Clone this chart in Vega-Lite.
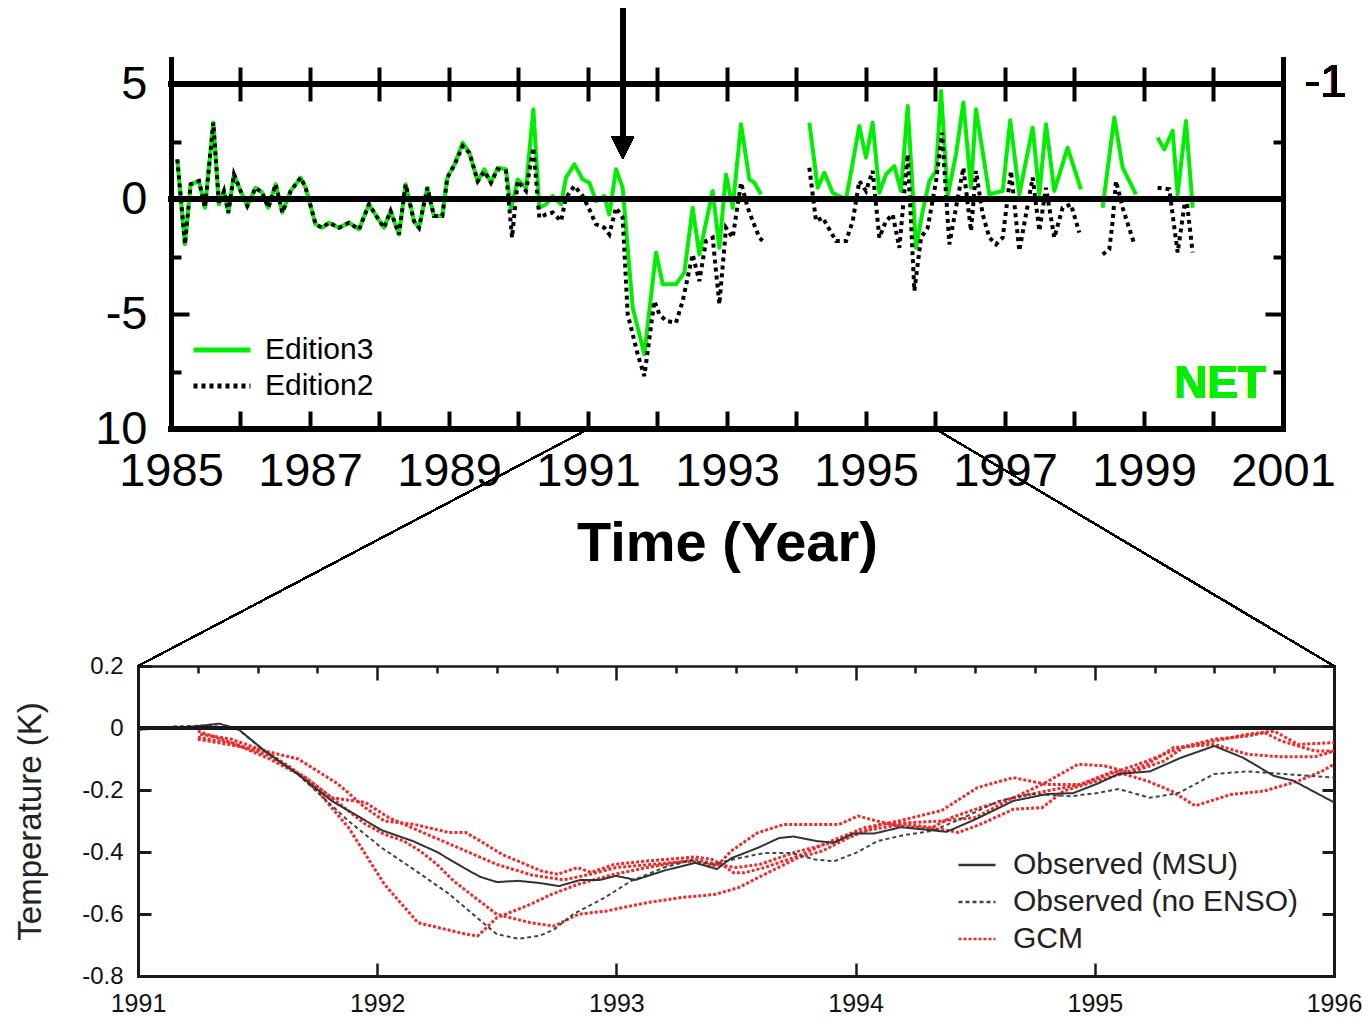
{
 "$schema": "https://vega.github.io/schema/vega-lite/v6.json",
 "padding": {"left": 14, "top": 5, "right": 0, "bottom": 0},
 "autosize": {"type": "pad"},
 "background": "white",
 "bounds": "flush",
 "spacing": 237,
 "resolve": {"scale": {"color": "independent", "strokeDash": "independent", "x": "independent", "y": "independent"}, "legend": {"color": "independent", "strokeDash": "independent"}},
 "config": {
  "view": {"stroke": null},
  "font": "Liberation Sans",
  "axis": {"grid": false, "labelFont": "Liberation Sans", "titleFont": "Liberation Sans"},
  "legend": {"labelFont": "Liberation Sans", "labelLimit": 500}
 },
 "datasets": {
  "top": [
   {"t":1985.091,"v":1.72,"s":"Edition3"},{"t":1985.201,"v":-1.97,"s":"Edition3"},{"t":1985.283,"v":0.64,"s":"Edition3"},{"t":1985.403,"v":0.78,"s":"Edition3"},{"t":1985.489,"v":-0.38,"s":"Edition3"},{"t":1985.609,"v":3.32,"s":"Edition3"},{"t":1985.69,"v":-0.23,"s":"Edition3"},{"t":1985.762,"v":0.35,"s":"Edition3"},{"t":1985.825,"v":-0.59,"s":"Edition3"},{"t":1985.906,"v":1.07,"s":"Edition3"},{"t":1986.002,"v":0.35,"s":"Edition3"},{"t":1986.098,"v":-0.3,"s":"Edition3"},{"t":1986.218,"v":0.49,"s":"Edition3"},{"t":1986.314,"v":0.27,"s":"Edition3"},{"t":1986.4,"v":-0.38,"s":"Edition3"},{"t":1986.506,"v":0.64,"s":"Edition3"},{"t":1986.602,"v":-0.59,"s":"Edition3"},{"t":1986.722,"v":0.35,"s":"Edition3"},{"t":1986.866,"v":0.93,"s":"Edition3"},{"t":1986.937,"v":0.49,"s":"Edition3"},{"t":1987.081,"v":-1.1,"s":"Edition3"},{"t":1987.177,"v":-1.25,"s":"Edition3"},{"t":1987.273,"v":-1.03,"s":"Edition3"},{"t":1987.417,"v":-1.25,"s":"Edition3"},{"t":1987.561,"v":-1.03,"s":"Edition3"},{"t":1987.705,"v":-1.32,"s":"Edition3"},{"t":1987.849,"v":-0.23,"s":"Edition3"},{"t":1987.969,"v":-0.81,"s":"Edition3"},{"t":1988.065,"v":-1.25,"s":"Edition3"},{"t":1988.16,"v":-0.52,"s":"Edition3"},{"t":1988.28,"v":-1.54,"s":"Edition3"},{"t":1988.376,"v":0.64,"s":"Edition3"},{"t":1988.496,"v":-0.96,"s":"Edition3"},{"t":1988.568,"v":-1.25,"s":"Edition3"},{"t":1988.688,"v":0.49,"s":"Edition3"},{"t":1988.784,"v":-0.74,"s":"Edition3"},{"t":1988.904,"v":-0.74,"s":"Edition3"},{"t":1988.976,"v":0.93,"s":"Edition3"},{"t":1989.08,"v":1.5,"s":"Edition3"},{"t":1989.197,"v":2.45,"s":"Edition3"},{"t":1989.293,"v":2.01,"s":"Edition3"},{"t":1989.413,"v":0.78,"s":"Edition3"},{"t":1989.509,"v":1.29,"s":"Edition3"},{"t":1989.604,"v":0.71,"s":"Edition3"},{"t":1989.7,"v":1.36,"s":"Edition3"},{"t":1989.82,"v":1.29,"s":"Edition3"},
   {"t":1989.892,"v":-0.45,"s":"Edition3"},{"t":1989.988,"v":0.85,"s":"Edition3"},{"t":1990.108,"v":0.49,"s":"Edition3"},{"t":1990.214,"v":3.9,"s":"Edition3"},{"t":1990.3,"v":-0.38,"s":"Edition3"},{"t":1990.396,"v":-0.23,"s":"Edition3"},{"t":1990.492,"v":0.13,"s":"Edition3"},{"t":1990.612,"v":-0.23,"s":"Edition3"},{"t":1990.684,"v":0.93,"s":"Edition3"},{"t":1990.804,"v":1.51,"s":"Edition3"},{"t":1990.924,"v":0.85,"s":"Edition3"},{"t":1991.019,"v":0.71,"s":"Edition3"},{"t":1991.115,"v":-0.09,"s":"Edition3"},{"t":1991.235,"v":0.13,"s":"Edition3"},{"t":1991.307,"v":-0.67,"s":"Edition3"},{"t":1991.403,"v":1.29,"s":"Edition3"},{"t":1991.499,"v":0.49,"s":"Edition3"},{"t":1991.643,"v":-4.72,"s":"Edition3"},{"t":1991.811,"v":-6.75,"s":"Edition3"},{"t":1991.979,"v":-2.33,"s":"Edition3"},{"t":1992.075,"v":-3.71,"s":"Edition3"},{"t":1992.266,"v":-3.71,"s":"Edition3"},{"t":1992.386,"v":-3.2,"s":"Edition3"},{"t":1992.506,"v":-0.38,"s":"Edition3"},{"t":1992.602,"v":-2.41,"s":"Edition3"},{"t":1992.794,"v":0.35,"s":"Edition3"},{"t":1992.89,"v":-2.12,"s":"Edition3"},{"t":1992.986,"v":1.07,"s":"Edition3"},{"t":1993.082,"v":-0.38,"s":"Edition3"},{"t":1993.202,"v":3.25,"s":"Edition3"},{"t":1993.322,"v":0.85,"s":"Edition3"},{"t":1993.394,"v":0.71,"s":"Edition3"},{"t":1993.49,"v":0.2,"s":"Edition3"},{"t":1993.8,"v":null,"s":"Edition3"},{"t":1994.185,"v":3.32,"s":"Edition3"},{"t":1994.305,"v":0.49,"s":"Edition3"},{"t":1994.401,"v":1.14,"s":"Edition3"},{"t":1994.521,"v":0.27,"s":"Edition3"},{"t":1994.713,"v":-0.02,"s":"Edition3"},{"t":1994.904,"v":3.17,"s":"Edition3"},{"t":1995.0,"v":1.8,"s":"Edition3"},{"t":1995.096,"v":3.32,"s":"Edition3"},{"t":1995.192,"v":0.27,"s":"Edition3"},{"t":1995.288,"v":1.07,"s":"Edition3"},{"t":1995.408,"v":1.43,"s":"Edition3"},{"t":1995.504,"v":0.35,"s":"Edition3"},{"t":1995.6,"v":4.04,"s":"Edition3"},{"t":1995.72,"v":-2.12,"s":"Edition3"},{"t":1995.816,"v":-0.52,"s":"Edition3"},{"t":1995.912,"v":0.78,"s":"Edition3"},{"t":1996.008,"v":1.22,"s":"Edition3"},{"t":1996.08,"v":4.7,"s":"Edition3"},{"t":1996.175,"v":0.13,"s":"Edition3"},{"t":1996.295,"v":1.94,"s":"Edition3"},{"t":1996.401,"v":4.19,"s":"Edition3"},{"t":1996.511,"v":0.49,"s":"Edition3"},{"t":1996.583,"v":3.9,"s":"Edition3"},{"t":1996.775,"v":0.2,"s":"Edition3"},{"t":1996.967,"v":0.35,"s":"Edition3"},{"t":1997.075,"v":3.42,"s":"Edition3"},{"t":1997.206,"v":0.2,"s":"Edition3"},{"t":1997.398,"v":3.1,"s":"Edition3"},{"t":1997.494,"v":0.2,"s":"Edition3"},{"t":1997.59,"v":3.25,"s":"Edition3"},{"t":1997.709,"v":0.35,"s":"Edition3"},{"t":1997.901,"v":2.23,"s":"Edition3"},{"t":1998.093,"v":0.42,"s":"Edition3"},{"t":1998.25,"v":null,"s":"Edition3"},{"t":1998.405,"v":-0.38,"s":"Edition3"},{"t":1998.573,"v":3.54,"s":"Edition3"},{"t":1998.693,"v":1.36,"s":"Edition3"},{"t":1998.885,"v":0.2,"s":"Edition3"},{"t":1999.05,"v":null,"s":"Edition3"},{"t":1999.196,"v":2.67,"s":"Edition3"},{"t":1999.292,"v":2.16,"s":"Edition3"},{"t":1999.412,"v":2.96,"s":"Edition3"},{"t":1999.484,"v":0.2,"s":"Edition3"},{"t":1999.604,"v":3.39,"s":"Edition3"},{"t":1999.7,"v":-0.38,"s":"Edition3"},
   {"t":1985.091,"v":1.72,"s":"Edition2"},{"t":1985.201,"v":-1.97,"s":"Edition2"},{"t":1985.283,"v":0.64,"s":"Edition2"},{"t":1985.403,"v":0.78,"s":"Edition2"},{"t":1985.489,"v":-0.38,"s":"Edition2"},{"t":1985.609,"v":3.32,"s":"Edition2"},{"t":1985.69,"v":-0.23,"s":"Edition2"},{"t":1985.762,"v":0.35,"s":"Edition2"},{"t":1985.825,"v":-0.59,"s":"Edition2"},{"t":1985.906,"v":1.07,"s":"Edition2"},{"t":1986.002,"v":0.35,"s":"Edition2"},{"t":1986.098,"v":-0.3,"s":"Edition2"},{"t":1986.218,"v":0.49,"s":"Edition2"},{"t":1986.314,"v":0.27,"s":"Edition2"},{"t":1986.4,"v":-0.38,"s":"Edition2"},{"t":1986.506,"v":0.64,"s":"Edition2"},{"t":1986.602,"v":-0.59,"s":"Edition2"},{"t":1986.722,"v":0.35,"s":"Edition2"},{"t":1986.866,"v":0.93,"s":"Edition2"},{"t":1986.937,"v":0.49,"s":"Edition2"},{"t":1987.081,"v":-1.1,"s":"Edition2"},{"t":1987.177,"v":-1.25,"s":"Edition2"},{"t":1987.273,"v":-1.03,"s":"Edition2"},{"t":1987.417,"v":-1.25,"s":"Edition2"},{"t":1987.561,"v":-1.03,"s":"Edition2"},{"t":1987.705,"v":-1.32,"s":"Edition2"},{"t":1987.849,"v":-0.23,"s":"Edition2"},{"t":1987.969,"v":-0.81,"s":"Edition2"},{"t":1988.065,"v":-1.25,"s":"Edition2"},{"t":1988.16,"v":-0.52,"s":"Edition2"},{"t":1988.28,"v":-1.54,"s":"Edition2"},{"t":1988.376,"v":0.64,"s":"Edition2"},{"t":1988.496,"v":-0.96,"s":"Edition2"},{"t":1988.568,"v":-1.25,"s":"Edition2"},{"t":1988.688,"v":0.49,"s":"Edition2"},{"t":1988.784,"v":-0.74,"s":"Edition2"},{"t":1988.904,"v":-0.74,"s":"Edition2"},{"t":1988.976,"v":0.93,"s":"Edition2"},{"t":1989.08,"v":1.5,"s":"Edition2"},{"t":1989.197,"v":2.3,"s":"Edition2"},{"t":1989.293,"v":2.01,"s":"Edition2"},{"t":1989.413,"v":0.78,"s":"Edition2"},{"t":1989.509,"v":1.2,"s":"Edition2"},{"t":1989.604,"v":0.71,"s":"Edition2"},{"t":1989.7,"v":1.3,"s":"Edition2"},{"t":1989.82,"v":1.2,"s":"Edition2"},
   {"t":1989.907,"v":-1.68,"s":"Edition2"},{"t":1989.988,"v":0.78,"s":"Edition2"},{"t":1990.108,"v":0.35,"s":"Edition2"},{"t":1990.214,"v":2.23,"s":"Edition2"},{"t":1990.3,"v":-0.81,"s":"Edition2"},{"t":1990.396,"v":-0.67,"s":"Edition2"},{"t":1990.492,"v":-0.59,"s":"Edition2"},{"t":1990.612,"v":-0.96,"s":"Edition2"},{"t":1990.684,"v":0.06,"s":"Edition2"},{"t":1990.804,"v":0.57,"s":"Edition2"},{"t":1990.924,"v":0.13,"s":"Edition2"},{"t":1991.019,"v":-0.45,"s":"Edition2"},{"t":1991.115,"v":-1.1,"s":"Edition2"},{"t":1991.235,"v":-1.25,"s":"Edition2"},{"t":1991.307,"v":-1.54,"s":"Edition2"},{"t":1991.403,"v":-0.38,"s":"Edition2"},{"t":1991.499,"v":-0.81,"s":"Edition2"},{"t":1991.571,"v":-5.01,"s":"Edition2"},{"t":1991.715,"v":-6.75,"s":"Edition2"},{"t":1991.811,"v":-7.7,"s":"Edition2"},{"t":1991.955,"v":-4.44,"s":"Edition2"},{"t":1992.027,"v":-5.01,"s":"Edition2"},{"t":1992.123,"v":-5.3,"s":"Edition2"},{"t":1992.266,"v":-5.38,"s":"Edition2"},{"t":1992.362,"v":-4.44,"s":"Edition2"},{"t":1992.506,"v":-2.41,"s":"Edition2"},{"t":1992.602,"v":-3.57,"s":"Edition2"},{"t":1992.698,"v":-1.83,"s":"Edition2"},{"t":1992.794,"v":-1.68,"s":"Edition2"},{"t":1992.89,"v":-4.58,"s":"Edition2"},{"t":1992.986,"v":-1.25,"s":"Edition2"},{"t":1993.082,"v":-1.68,"s":"Edition2"},{"t":1993.202,"v":0.71,"s":"Edition2"},{"t":1993.298,"v":-0.38,"s":"Edition2"},{"t":1993.37,"v":-0.96,"s":"Edition2"},{"t":1993.466,"v":-1.68,"s":"Edition2"},{"t":1993.514,"v":-1.83,"s":"Edition2"},{"t":1993.8,"v":null,"s":"Edition2"},{"t":1994.185,"v":1.36,"s":"Edition2"},{"t":1994.281,"v":-0.96,"s":"Edition2"},{"t":1994.377,"v":-0.81,"s":"Edition2"},{"t":1994.473,"v":-1.32,"s":"Edition2"},{"t":1994.569,"v":-1.83,"s":"Edition2"},{"t":1994.713,"v":-1.83,"s":"Edition2"},{"t":1994.809,"v":-0.96,"s":"Edition2"},{"t":1994.904,"v":0.78,"s":"Edition2"},{"t":1995.0,"v":0.35,"s":"Edition2"},{"t":1995.096,"v":1.22,"s":"Edition2"},{"t":1995.192,"v":-1.68,"s":"Edition2"},{"t":1995.288,"v":-0.96,"s":"Edition2"},{"t":1995.384,"v":-0.67,"s":"Edition2"},{"t":1995.48,"v":-2.12,"s":"Edition2"},{"t":1995.6,"v":1.94,"s":"Edition2"},{"t":1995.696,"v":-4.0,"s":"Edition2"},{"t":1995.792,"v":-1.68,"s":"Edition2"},{"t":1995.888,"v":-1.25,"s":"Edition2"},{"t":1996.008,"v":0.78,"s":"Edition2"},{"t":1996.094,"v":2.88,"s":"Edition2"},{"t":1996.199,"v":-1.97,"s":"Edition2"},{"t":1996.295,"v":-0.38,"s":"Edition2"},{"t":1996.401,"v":1.36,"s":"Edition2"},{"t":1996.511,"v":-1.39,"s":"Edition2"},{"t":1996.583,"v":1.22,"s":"Edition2"},{"t":1996.679,"v":-0.67,"s":"Edition2"},{"t":1996.775,"v":-1.68,"s":"Edition2"},{"t":1996.871,"v":-1.97,"s":"Edition2"},{"t":1996.967,"v":-1.68,"s":"Edition2"},{"t":1997.086,"v":1.22,"s":"Edition2"},{"t":1997.206,"v":-2.26,"s":"Edition2"},{"t":1997.302,"v":-0.67,"s":"Edition2"},{"t":1997.398,"v":0.93,"s":"Edition2"},{"t":1997.494,"v":-1.39,"s":"Edition2"},{"t":1997.59,"v":0.49,"s":"Edition2"},{"t":1997.709,"v":-1.68,"s":"Edition2"},{"t":1997.829,"v":-0.38,"s":"Edition2"},{"t":1997.949,"v":-0.23,"s":"Edition2"},{"t":1998.069,"v":-1.46,"s":"Edition2"},{"t":1998.25,"v":null,"s":"Edition2"},{"t":1998.405,"v":-2.41,"s":"Edition2"},{"t":1998.501,"v":-2.19,"s":"Edition2"},{"t":1998.549,"v":-0.96,"s":"Edition2"},{"t":1998.597,"v":0.78,"s":"Edition2"},{"t":1998.693,"v":-0.38,"s":"Edition2"},{"t":1998.861,"v":-1.97,"s":"Edition2"},{"t":1999.05,"v":null,"s":"Edition2"},{"t":1999.196,"v":0.49,"s":"Edition2"},{"t":1999.364,"v":0.42,"s":"Edition2"},{"t":1999.484,"v":-2.33,"s":"Edition2"},{"t":1999.604,"v":0.2,"s":"Edition2"},{"t":1999.7,"v":-2.33,"s":"Edition2"}
  ],
  "bottom": [
   {"t":1991.0,"v":-0.005,"g":"Observed (MSU)","m":"msu"},{"t":1991.1,"v":-0.002,"g":"Observed (MSU)","m":"msu"},{"t":1991.2,"v":0.002,"g":"Observed (MSU)","m":"msu"},{"t":1991.34,"v":0.014,"g":"Observed (MSU)","m":"msu"},{"t":1991.42,"v":-0.004,"g":"Observed (MSU)","m":"msu"},{"t":1991.53,"v":-0.074,"g":"Observed (MSU)","m":"msu"},{"t":1991.67,"v":-0.15,"g":"Observed (MSU)","m":"msu"},{"t":1991.81,"v":-0.235,"g":"Observed (MSU)","m":"msu"},{"t":1992.02,"v":-0.33,"g":"Observed (MSU)","m":"msu"},{"t":1992.15,"v":-0.365,"g":"Observed (MSU)","m":"msu"},{"t":1992.25,"v":-0.4,"g":"Observed (MSU)","m":"msu"},{"t":1992.36,"v":-0.45,"g":"Observed (MSU)","m":"msu"},{"t":1992.43,"v":-0.48,"g":"Observed (MSU)","m":"msu"},{"t":1992.5,"v":-0.497,"g":"Observed (MSU)","m":"msu"},{"t":1992.59,"v":-0.493,"g":"Observed (MSU)","m":"msu"},{"t":1992.68,"v":-0.5,"g":"Observed (MSU)","m":"msu"},{"t":1992.76,"v":-0.51,"g":"Observed (MSU)","m":"msu"},{"t":1992.85,"v":-0.49,"g":"Observed (MSU)","m":"msu"},{"t":1992.93,"v":-0.49,"g":"Observed (MSU)","m":"msu"},{"t":1993.0,"v":-0.477,"g":"Observed (MSU)","m":"msu"},{"t":1993.08,"v":-0.49,"g":"Observed (MSU)","m":"msu"},{"t":1993.2,"v":-0.46,"g":"Observed (MSU)","m":"msu"},{"t":1993.33,"v":-0.435,"g":"Observed (MSU)","m":"msu"},{"t":1993.42,"v":-0.455,"g":"Observed (MSU)","m":"msu"},{"t":1993.48,"v":-0.42,"g":"Observed (MSU)","m":"msu"},{"t":1993.59,"v":-0.387,"g":"Observed (MSU)","m":"msu"},{"t":1993.68,"v":-0.355,"g":"Observed (MSU)","m":"msu"},{"t":1993.74,"v":-0.35,"g":"Observed (MSU)","m":"msu"},{"t":1993.84,"v":-0.365,"g":"Observed (MSU)","m":"msu"},{"t":1993.91,"v":-0.37,"g":"Observed (MSU)","m":"msu"},{"t":1993.99,"v":-0.34,"g":"Observed (MSU)","m":"msu"},{"t":1994.08,"v":-0.34,"g":"Observed (MSU)","m":"msu"},{"t":1994.19,"v":-0.32,"g":"Observed (MSU)","m":"msu"},{"t":1994.32,"v":-0.33,"g":"Observed (MSU)","m":"msu"},{"t":1994.38,"v":-0.335,"g":"Observed (MSU)","m":"msu"},{"t":1994.5,"v":-0.295,"g":"Observed (MSU)","m":"msu"},{"t":1994.66,"v":-0.235,"g":"Observed (MSU)","m":"msu"},{"t":1994.8,"v":-0.213,"g":"Observed (MSU)","m":"msu"},{"t":1994.91,"v":-0.21,"g":"Observed (MSU)","m":"msu"},{"t":1995.01,"v":-0.18,"g":"Observed (MSU)","m":"msu"},{"t":1995.1,"v":-0.148,"g":"Observed (MSU)","m":"msu"},{"t":1995.23,"v":-0.14,"g":"Observed (MSU)","m":"msu"},{"t":1995.36,"v":-0.096,"g":"Observed (MSU)","m":"msu"},{"t":1995.5,"v":-0.058,"g":"Observed (MSU)","m":"msu"},{"t":1995.62,"v":-0.096,"g":"Observed (MSU)","m":"msu"},{"t":1995.75,"v":-0.155,"g":"Observed (MSU)","m":"msu"},{"t":1995.83,"v":-0.17,"g":"Observed (MSU)","m":"msu"},{"t":1996.0,"v":-0.24,"g":"Observed (MSU)","m":"msu"},
   {"t":1991.0,"v":-0.005,"g":"Observed (no ENSO)","m":"ne"},{"t":1991.15,"v":0.005,"g":"Observed (no ENSO)","m":"ne"},{"t":1991.3,"v":0.008,"g":"Observed (no ENSO)","m":"ne"},{"t":1991.42,"v":-0.005,"g":"Observed (no ENSO)","m":"ne"},{"t":1991.53,"v":-0.075,"g":"Observed (no ENSO)","m":"ne"},{"t":1991.67,"v":-0.15,"g":"Observed (no ENSO)","m":"ne"},{"t":1991.74,"v":-0.2,"g":"Observed (no ENSO)","m":"ne"},{"t":1991.88,"v":-0.3,"g":"Observed (no ENSO)","m":"ne"},{"t":1992.02,"v":-0.387,"g":"Observed (no ENSO)","m":"ne"},{"t":1992.16,"v":-0.46,"g":"Observed (no ENSO)","m":"ne"},{"t":1992.3,"v":-0.535,"g":"Observed (no ENSO)","m":"ne"},{"t":1992.43,"v":-0.62,"g":"Observed (no ENSO)","m":"ne"},{"t":1992.5,"v":-0.665,"g":"Observed (no ENSO)","m":"ne"},{"t":1992.59,"v":-0.68,"g":"Observed (no ENSO)","m":"ne"},{"t":1992.68,"v":-0.67,"g":"Observed (no ENSO)","m":"ne"},{"t":1992.74,"v":-0.65,"g":"Observed (no ENSO)","m":"ne"},{"t":1992.82,"v":-0.6,"g":"Observed (no ENSO)","m":"ne"},{"t":1992.95,"v":-0.548,"g":"Observed (no ENSO)","m":"ne"},{"t":1993.06,"v":-0.494,"g":"Observed (no ENSO)","m":"ne"},{"t":1993.2,"v":-0.45,"g":"Observed (no ENSO)","m":"ne"},{"t":1993.31,"v":-0.427,"g":"Observed (no ENSO)","m":"ne"},{"t":1993.4,"v":-0.44,"g":"Observed (no ENSO)","m":"ne"},{"t":1993.51,"v":-0.42,"g":"Observed (no ENSO)","m":"ne"},{"t":1993.62,"v":-0.403,"g":"Observed (no ENSO)","m":"ne"},{"t":1993.73,"v":-0.403,"g":"Observed (no ENSO)","m":"ne"},{"t":1993.83,"v":-0.424,"g":"Observed (no ENSO)","m":"ne"},{"t":1993.91,"v":-0.43,"g":"Observed (no ENSO)","m":"ne"},{"t":1994.01,"v":-0.4,"g":"Observed (no ENSO)","m":"ne"},{"t":1994.09,"v":-0.365,"g":"Observed (no ENSO)","m":"ne"},{"t":1994.2,"v":-0.346,"g":"Observed (no ENSO)","m":"ne"},{"t":1994.32,"v":-0.332,"g":"Observed (no ENSO)","m":"ne"},{"t":1994.45,"v":-0.29,"g":"Observed (no ENSO)","m":"ne"},{"t":1994.6,"v":-0.235,"g":"Observed (no ENSO)","m":"ne"},{"t":1994.73,"v":-0.213,"g":"Observed (no ENSO)","m":"ne"},{"t":1994.9,"v":-0.22,"g":"Observed (no ENSO)","m":"ne"},{"t":1995.01,"v":-0.21,"g":"Observed (no ENSO)","m":"ne"},{"t":1995.1,"v":-0.197,"g":"Observed (no ENSO)","m":"ne"},{"t":1995.23,"v":-0.225,"g":"Observed (no ENSO)","m":"ne"},{"t":1995.35,"v":-0.21,"g":"Observed (no ENSO)","m":"ne"},{"t":1995.5,"v":-0.148,"g":"Observed (no ENSO)","m":"ne"},{"t":1995.64,"v":-0.14,"g":"Observed (no ENSO)","m":"ne"},{"t":1995.78,"v":-0.148,"g":"Observed (no ENSO)","m":"ne"},{"t":1996.0,"v":-0.16,"g":"Observed (no ENSO)","m":"ne"},
   {"t":1991.25,"v":-0.036,"g":"GCM","m":"g1"},{"t":1991.53,"v":-0.074,"g":"GCM","m":"g1"},{"t":1991.67,"v":-0.1,"g":"GCM","m":"g1"},{"t":1991.835,"v":-0.18,"g":"GCM","m":"g1"},{"t":1991.95,"v":-0.257,"g":"GCM","m":"g1"},{"t":1992.03,"v":-0.3,"g":"GCM","m":"g1"},{"t":1992.155,"v":-0.311,"g":"GCM","m":"g1"},{"t":1992.3,"v":-0.337,"g":"GCM","m":"g1"},{"t":1992.37,"v":-0.337,"g":"GCM","m":"g1"},{"t":1992.43,"v":-0.364,"g":"GCM","m":"g1"},{"t":1992.52,"v":-0.407,"g":"GCM","m":"g1"},{"t":1992.685,"v":-0.461,"g":"GCM","m":"g1"},{"t":1992.754,"v":-0.472,"g":"GCM","m":"g1"},{"t":1992.838,"v":-0.45,"g":"GCM","m":"g1"},{"t":1992.894,"v":-0.466,"g":"GCM","m":"g1"},{"t":1992.99,"v":-0.44,"g":"GCM","m":"g1"},{"t":1993.13,"v":-0.429,"g":"GCM","m":"g1"},{"t":1993.33,"v":-0.416,"g":"GCM","m":"g1"},{"t":1993.4,"v":-0.424,"g":"GCM","m":"g1"},{"t":1993.44,"v":-0.44,"g":"GCM","m":"g1"},{"t":1993.49,"v":-0.467,"g":"GCM","m":"g1"},{"t":1993.535,"v":-0.467,"g":"GCM","m":"g1"},{"t":1993.62,"v":-0.45,"g":"GCM","m":"g1"},{"t":1993.76,"v":-0.413,"g":"GCM","m":"g1"},{"t":1993.9,"v":-0.364,"g":"GCM","m":"g1"},{"t":1994.04,"v":-0.321,"g":"GCM","m":"g1"},{"t":1994.18,"v":-0.3,"g":"GCM","m":"g1"},{"t":1994.36,"v":-0.266,"g":"GCM","m":"g1"},{"t":1994.51,"v":-0.192,"g":"GCM","m":"g1"},{"t":1994.66,"v":-0.16,"g":"GCM","m":"g1"},{"t":1994.8,"v":-0.182,"g":"GCM","m":"g1"},{"t":1994.94,"v":-0.182,"g":"GCM","m":"g1"},{"t":1995.08,"v":-0.144,"g":"GCM","m":"g1"},{"t":1995.22,"v":-0.106,"g":"GCM","m":"g1"},{"t":1995.36,"v":-0.063,"g":"GCM","m":"g1"},{"t":1995.5,"v":-0.036,"g":"GCM","m":"g1"},{"t":1995.64,"v":-0.026,"g":"GCM","m":"g1"},{"t":1995.71,"v":-0.015,"g":"GCM","m":"g1"},{"t":1995.78,"v":-0.042,"g":"GCM","m":"g1"},{"t":1995.92,"v":-0.074,"g":"GCM","m":"g1"},{"t":1996.0,"v":-0.074,"g":"GCM","m":"g1"},
   {"t":1991.25,"v":-0.01,"g":"GCM","m":"g2"},{"t":1991.4,"v":-0.05,"g":"GCM","m":"g2"},{"t":1991.55,"v":-0.1,"g":"GCM","m":"g2"},{"t":1991.7,"v":-0.16,"g":"GCM","m":"g2"},{"t":1991.81,"v":-0.225,"g":"GCM","m":"g2"},{"t":1991.95,"v":-0.24,"g":"GCM","m":"g2"},{"t":1992.05,"v":-0.29,"g":"GCM","m":"g2"},{"t":1992.2,"v":-0.34,"g":"GCM","m":"g2"},{"t":1992.35,"v":-0.39,"g":"GCM","m":"g2"},{"t":1992.5,"v":-0.44,"g":"GCM","m":"g2"},{"t":1992.65,"v":-0.475,"g":"GCM","m":"g2"},{"t":1992.78,"v":-0.49,"g":"GCM","m":"g2"},{"t":1992.9,"v":-0.47,"g":"GCM","m":"g2"},{"t":1993.0,"v":-0.45,"g":"GCM","m":"g2"},{"t":1993.15,"v":-0.44,"g":"GCM","m":"g2"},{"t":1993.3,"v":-0.43,"g":"GCM","m":"g2"},{"t":1993.42,"v":-0.445,"g":"GCM","m":"g2"},{"t":1993.48,"v":-0.397,"g":"GCM","m":"g2"},{"t":1993.59,"v":-0.338,"g":"GCM","m":"g2"},{"t":1993.7,"v":-0.311,"g":"GCM","m":"g2"},{"t":1993.93,"v":-0.311,"g":"GCM","m":"g2"},{"t":1994.01,"v":-0.284,"g":"GCM","m":"g2"},{"t":1994.09,"v":-0.3,"g":"GCM","m":"g2"},{"t":1994.18,"v":-0.316,"g":"GCM","m":"g2"},{"t":1994.36,"v":-0.327,"g":"GCM","m":"g2"},{"t":1994.43,"v":-0.337,"g":"GCM","m":"g2"},{"t":1994.52,"v":-0.311,"g":"GCM","m":"g2"},{"t":1994.66,"v":-0.262,"g":"GCM","m":"g2"},{"t":1994.78,"v":-0.257,"g":"GCM","m":"g2"},{"t":1994.87,"v":-0.203,"g":"GCM","m":"g2"},{"t":1995.01,"v":-0.171,"g":"GCM","m":"g2"},{"t":1995.11,"v":-0.149,"g":"GCM","m":"g2"},{"t":1995.22,"v":-0.117,"g":"GCM","m":"g2"},{"t":1995.33,"v":-0.063,"g":"GCM","m":"g2"},{"t":1995.5,"v":-0.053,"g":"GCM","m":"g2"},{"t":1995.64,"v":-0.085,"g":"GCM","m":"g2"},{"t":1995.78,"v":-0.093,"g":"GCM","m":"g2"},{"t":1995.92,"v":-0.093,"g":"GCM","m":"g2"},{"t":1996.0,"v":-0.074,"g":"GCM","m":"g2"},
   {"t":1991.25,"v":-0.03,"g":"GCM","m":"g3"},{"t":1991.4,"v":-0.05,"g":"GCM","m":"g3"},{"t":1991.55,"v":-0.09,"g":"GCM","m":"g3"},{"t":1991.7,"v":-0.16,"g":"GCM","m":"g3"},{"t":1991.81,"v":-0.225,"g":"GCM","m":"g3"},{"t":1991.95,"v":-0.31,"g":"GCM","m":"g3"},{"t":1992.03,"v":-0.343,"g":"GCM","m":"g3"},{"t":1992.11,"v":-0.364,"g":"GCM","m":"g3"},{"t":1992.18,"v":-0.397,"g":"GCM","m":"g3"},{"t":1992.25,"v":-0.44,"g":"GCM","m":"g3"},{"t":1992.32,"v":-0.494,"g":"GCM","m":"g3"},{"t":1992.5,"v":-0.601,"g":"GCM","m":"g3"},{"t":1992.64,"v":-0.628,"g":"GCM","m":"g3"},{"t":1992.74,"v":-0.639,"g":"GCM","m":"g3"},{"t":1992.84,"v":-0.601,"g":"GCM","m":"g3"},{"t":1992.96,"v":-0.59,"g":"GCM","m":"g3"},{"t":1993.13,"v":-0.563,"g":"GCM","m":"g3"},{"t":1993.27,"v":-0.547,"g":"GCM","m":"g3"},{"t":1993.41,"v":-0.537,"g":"GCM","m":"g3"},{"t":1993.51,"v":-0.515,"g":"GCM","m":"g3"},{"t":1993.62,"v":-0.472,"g":"GCM","m":"g3"},{"t":1993.76,"v":-0.418,"g":"GCM","m":"g3"},{"t":1993.86,"v":-0.397,"g":"GCM","m":"g3"},{"t":1993.97,"v":-0.354,"g":"GCM","m":"g3"},{"t":1994.11,"v":-0.31,"g":"GCM","m":"g3"},{"t":1994.36,"v":-0.3,"g":"GCM","m":"g3"},{"t":1994.5,"v":-0.289,"g":"GCM","m":"g3"},{"t":1994.66,"v":-0.225,"g":"GCM","m":"g3"},{"t":1994.8,"v":-0.203,"g":"GCM","m":"g3"},{"t":1994.94,"v":-0.182,"g":"GCM","m":"g3"},{"t":1995.08,"v":-0.139,"g":"GCM","m":"g3"},{"t":1995.22,"v":-0.171,"g":"GCM","m":"g3"},{"t":1995.32,"v":-0.203,"g":"GCM","m":"g3"},{"t":1995.42,"v":-0.251,"g":"GCM","m":"g3"},{"t":1995.57,"v":-0.214,"g":"GCM","m":"g3"},{"t":1995.71,"v":-0.203,"g":"GCM","m":"g3"},{"t":1995.85,"v":-0.171,"g":"GCM","m":"g3"},{"t":1995.95,"v":-0.139,"g":"GCM","m":"g3"},{"t":1996.0,"v":-0.117,"g":"GCM","m":"g3"},
   {"t":1991.26,"v":-0.02,"g":"GCM","m":"g4"},{"t":1991.39,"v":-0.036,"g":"GCM","m":"g4"},{"t":1991.53,"v":-0.074,"g":"GCM","m":"g4"},{"t":1991.64,"v":-0.128,"g":"GCM","m":"g4"},{"t":1991.75,"v":-0.203,"g":"GCM","m":"g4"},{"t":1991.88,"v":-0.321,"g":"GCM","m":"g4"},{"t":1992.03,"v":-0.504,"g":"GCM","m":"g4"},{"t":1992.17,"v":-0.628,"g":"GCM","m":"g4"},{"t":1992.37,"v":-0.665,"g":"GCM","m":"g4"},{"t":1992.42,"v":-0.671,"g":"GCM","m":"g4"},{"t":1992.5,"v":-0.612,"g":"GCM","m":"g4"},{"t":1992.64,"v":-0.569,"g":"GCM","m":"g4"},{"t":1992.73,"v":-0.536,"g":"GCM","m":"g4"},{"t":1992.84,"v":-0.504,"g":"GCM","m":"g4"},{"t":1992.99,"v":-0.472,"g":"GCM","m":"g4"},{"t":1993.13,"v":-0.45,"g":"GCM","m":"g4"},{"t":1993.33,"v":-0.424,"g":"GCM","m":"g4"},{"t":1993.42,"v":-0.44,"g":"GCM","m":"g4"},{"t":1993.5,"v":-0.45,"g":"GCM","m":"g4"},{"t":1993.6,"v":-0.44,"g":"GCM","m":"g4"},{"t":1993.75,"v":-0.4,"g":"GCM","m":"g4"},{"t":1993.9,"v":-0.37,"g":"GCM","m":"g4"},{"t":1994.05,"v":-0.33,"g":"GCM","m":"g4"},{"t":1994.2,"v":-0.31,"g":"GCM","m":"g4"},{"t":1994.32,"v":-0.321,"g":"GCM","m":"g4"},{"t":1994.4,"v":-0.289,"g":"GCM","m":"g4"},{"t":1994.52,"v":-0.257,"g":"GCM","m":"g4"},{"t":1994.66,"v":-0.225,"g":"GCM","m":"g4"},{"t":1994.78,"v":-0.182,"g":"GCM","m":"g4"},{"t":1994.93,"v":-0.117,"g":"GCM","m":"g4"},{"t":1995.04,"v":-0.122,"g":"GCM","m":"g4"},{"t":1995.15,"v":-0.144,"g":"GCM","m":"g4"},{"t":1995.29,"v":-0.106,"g":"GCM","m":"g4"},{"t":1995.37,"v":-0.063,"g":"GCM","m":"g4"},{"t":1995.5,"v":-0.042,"g":"GCM","m":"g4"},{"t":1995.64,"v":-0.02,"g":"GCM","m":"g4"},{"t":1995.75,"v":-0.01,"g":"GCM","m":"g4"},{"t":1995.85,"v":-0.053,"g":"GCM","m":"g4"},{"t":1996.0,"v":-0.047,"g":"GCM","m":"g4"}
  ]
 },
 "vconcat": [
  {
   "width": 1145,
   "height": 370,
   "data": {"name": "top"},
   "resolve": {"axis": {"x": "independent", "y": "independent"}},
   "layer": [
    {
     "transform": [{"filter": "datum.s == 'Edition3'"}],
     "mark": {"type": "line", "strokeWidth": 4, "invalid": "break-paths-show-domains", "strokeJoin": "round"},
     "encoding": {
      "x": {"field": "t", "type": "quantitative", "scale": {"domain": [1984.5252, 2001], "nice": false, "zero": false},
       "axis": {"orient": "bottom", "values": [1985,1986,1987,1988,1989,1990,1991,1992,1993,1994,1995,1996,1997,1998,1999,2000,2001], "format": "d", "labelExpr": "datum.value % 2 == 1 ? datum.label : ''", "labelFlush": false, "labelOverlap": false, "labelFontSize": 47, "labelColor": "#000", "labelPadding": 37, "tickSize": -18, "tickWidth": 4, "tickColor": "#000", "domain": false, "title": "Time (Year)", "titleX": 589, "titleFontSize": 56, "titleFontWeight": "bold", "titleColor": "#000", "titlePadding": 22}},
      "y": {"field": "v", "type": "quantitative", "scale": {"domain": [-10, 6.087], "nice": false, "zero": false},
       "axis": {"orient": "left", "offset": -33, "values": [5, 2.5, 0, -2.5, -5, -7.5, -10], "labelExpr": "datum.value == 5 ? '5' : datum.value == 0 ? '0' : datum.value == -5 ? '-5' : datum.value == -10 ? '10' : ''", "labelFontSize": 47, "labelColor": "#000", "labelPadding": 42, "tickSize": {"condition": {"test": "datum.value % 5 == 0", "value": -18}, "value": -10}, "tickWidth": 4, "tickColor": "#000", "domainWidth": 5, "domainColor": "#000", "domainCap": "square", "title": null}},
      "color": {"field": "s", "type": "nominal", "scale": {"domain": ["Edition3", "Edition2"], "range": ["#00ee00", "#000000"]},
       "legend": {"orient": "none", "legendX": 53, "legendY": 260, "values": ["Edition3"], "title": null, "symbolType": "stroke", "symbolSize": 3249, "symbolStrokeWidth": 5, "labelFontSize": 30, "labelColor": "#000", "labelOffset": 12, "padding": 0}},
      "strokeDash": {"field": "s", "type": "nominal", "scale": {"domain": ["Edition2", "Edition3"], "range": [[4, 4], [1, 0]]},
       "legend": {"orient": "none", "legendX": 53, "legendY": 296, "values": ["Edition2"], "title": null, "symbolType": "stroke", "symbolSize": 3249, "symbolStrokeWidth": 5, "symbolStrokeColor": "#000", "labelFontSize": 30, "labelColor": "#000", "labelOffset": 12, "padding": 0}}
     }
    },
    {
     "transform": [{"filter": "datum.s == 'Edition2'"}],
     "mark": {"type": "line", "strokeWidth": 4, "invalid": "break-paths-show-domains"},
     "encoding": {
      "x": {"field": "t", "type": "quantitative", "axis": null},
      "y": {"field": "v", "type": "quantitative", "axis": null},
      "color": {"field": "s", "type": "nominal", "scale": {"domain": ["Edition3", "Edition2"], "range": ["#00ee00", "#000000"]},
       "legend": {"orient": "none", "legendX": 53, "legendY": 260, "values": ["Edition3"], "title": null, "symbolType": "stroke", "symbolSize": 3249, "symbolStrokeWidth": 5, "labelFontSize": 30, "labelColor": "#000", "labelOffset": 12, "padding": 0}},
      "strokeDash": {"field": "s", "type": "nominal", "scale": {"domain": ["Edition2", "Edition3"], "range": [[4, 4], [1, 0]]},
       "legend": {"orient": "none", "legendX": 53, "legendY": 296, "values": ["Edition2"], "title": null, "symbolType": "stroke", "symbolSize": 3249, "symbolStrokeWidth": 5, "symbolStrokeColor": "#000", "labelFontSize": 30, "labelColor": "#000", "labelOffset": 12, "padding": 0}}
     }
    },
    {
     "mark": {"type": "rule", "strokeWidth": 5, "color": "#000", "strokeCap": "square"},
     "encoding": {
      "x": {"datum": 1985, "type": "quantitative",
       "axis": {"orient": "top", "offset": -42, "values": [1985,1986,1987,1988,1989,1990,1991,1992,1993,1994,1995,1996,1997,1998,1999,2000,2001], "labels": false, "domain": false, "tickSize": 34, "tickWidth": 4, "tickColor": "#000", "title": null}},
      "x2": {"datum": 2001},
      "y": {"datum": 0, "type": "quantitative",
       "axis": {"orient": "right", "values": [5, 2.5, 0, -2.5, -5, -7.5, -10], "labels": false, "tickSize": {"condition": {"test": "datum.value % 5 == 0", "value": -18}, "value": -10}, "tickWidth": 4, "tickColor": "#000", "domainWidth": 5, "domainColor": "#000", "domainCap": "square", "title": null}}
     }
    },
    {
     "mark": {"type": "rule", "strokeWidth": 5, "color": "#000", "strokeCap": "square"},
     "encoding": {
      "x": {"datum": 1985, "type": "quantitative", "axis": null},
      "x2": {"datum": 2001},
      "y": {"datum": 5, "type": "quantitative", "axis": null}
     }
    },
    {
     "mark": {"type": "rule", "strokeWidth": 5, "color": "#000", "strokeCap": "square"},
     "encoding": {
      "x": {"datum": 1985, "type": "quantitative", "axis": null},
      "x2": {"datum": 2001},
      "y": {"datum": -10, "type": "quantitative", "axis": null}
     }
    },
    {
     "mark": {"type": "rule", "strokeWidth": 5, "color": "#000"},
     "encoding": {
      "x": {"datum": 1991.5, "type": "quantitative", "axis": null},
      "y": {"datum": 8.3, "type": "quantitative", "axis": null},
      "y2": {"datum": 2.74}
     }
    },
    {
     "mark": {"type": "point", "shape": "M-1,-1L1,-1L0,1Z", "filled": true, "color": "#000", "opacity": 1, "size": 500},
     "encoding": {
      "x": {"datum": 1991.5, "type": "quantitative", "axis": null},
      "y": {"datum": 2.24, "type": "quantitative", "axis": null}
     }
    },
    {
     "mark": {"type": "text", "text": "NET", "align": "right", "baseline": "middle", "font": "Liberation Sans", "fontSize": 46, "fontWeight": "bold", "color": "#00ee00"},
     "encoding": {
      "x": {"datum": 2000.755, "type": "quantitative", "axis": null},
      "y": {"datum": -8.04, "type": "quantitative", "axis": null}
     }
    },
    {
     "mark": {"type": "text", "text": "-1", "align": "left", "baseline": "middle", "font": "Liberation Sans", "fontSize": 47, "color": "#000"},
     "encoding": {
      "x": {"datum": 2001.31, "type": "quantitative", "axis": null},
      "y": {"datum": 5.05, "type": "quantitative", "axis": null}
     }
    }
   ]
  },
  {
   "width": 1196,
   "height": 310,
   "data": {"name": "bottom"},
   "resolve": {"axis": {"x": "independent", "y": "independent"}},
   "layer": [
    {
     "transform": [{"filter": "datum.g == 'GCM'"}],
     "mark": {"type": "line", "strokeWidth": 3},
     "encoding": {
      "x": {"field": "t", "type": "quantitative", "scale": {"domain": [1991, 1996], "nice": false, "zero": false},
       "axis": {"orient": "bottom", "values": [1991,1991.25,1991.5,1991.75,1992,1992.25,1992.5,1992.75,1993,1993.25,1993.5,1993.75,1994,1994.25,1994.5,1994.75,1995,1995.25,1995.5,1995.75,1996], "format": "d", "labelExpr": "datum.value % 1 == 0 ? datum.label : ''", "labelFlush": false, "labelOverlap": false, "labelFontSize": 25, "labelColor": "#111", "labelPadding": 28, "tickSize": {"condition": {"test": "datum.value % 1 == 0", "value": -13}, "value": -6}, "tickWidth": 2.5, "tickColor": "#1a1a1a", "domainWidth": 3, "domainColor": "#1a1a1a", "domainCap": "square", "title": null}},
      "y": {"field": "v", "type": "quantitative", "scale": {"domain": [-0.8, 0.2], "nice": false, "zero": false},
       "axis": {"orient": "left", "values": [0.2, 0, -0.2, -0.4, -0.6, -0.8], "labelExpr": "datum.value == 0 ? '0' : (datum.value > 0 ? '0.2' : '-' + format(-datum.value, '.1f'))", "labelFontSize": 24, "labelColor": "#111", "labelPadding": 28, "tickSize": -13, "tickWidth": 3, "tickColor": "#1a1a1a", "domainWidth": 3, "domainColor": "#1a1a1a", "domainCap": "square", "title": "Temperature (K)", "titleFontSize": 33, "titleFontWeight": "normal", "titleColor": "#222", "titlePadding": 34}},
      "detail": {"field": "m"},
      "color": {"field": "g", "type": "nominal", "scale": {"domain": ["Observed (MSU)", "Observed (no ENSO)", "GCM"], "range": ["#333333", "#444444", "#ee2b2b"]},
       "legend": {"orient": "none", "legendX": 819, "legendY": 179, "title": null, "symbolType": "stroke", "symbolSize": 1369, "symbolStrokeWidth": 2.5, "labelFontSize": 30, "labelColor": "#222", "labelOffset": 16, "rowPadding": 2, "padding": 0}},
      "strokeDash": {"field": "g", "type": "nominal", "scale": {"domain": ["Observed (MSU)", "Observed (no ENSO)", "GCM"], "range": [[1, 0], [4, 3], [3, 2]]},
       "legend": {"orient": "none", "legendX": 819, "legendY": 179, "title": null, "symbolType": "stroke", "symbolSize": 1369, "symbolStrokeWidth": 2.5, "labelFontSize": 30, "labelColor": "#222", "labelOffset": 16, "rowPadding": 2, "padding": 0}}
     }
    },
    {
     "transform": [{"filter": "datum.g == 'Observed (no ENSO)'"}],
     "mark": {"type": "line", "strokeWidth": 2},
     "encoding": {
      "x": {"field": "t", "type": "quantitative", "axis": null},
      "y": {"field": "v", "type": "quantitative", "axis": null},
      "color": {"field": "g", "type": "nominal", "scale": {"domain": ["Observed (MSU)", "Observed (no ENSO)", "GCM"], "range": ["#333333", "#444444", "#ee2b2b"]},
       "legend": {"orient": "none", "legendX": 819, "legendY": 179, "title": null, "symbolType": "stroke", "symbolSize": 1369, "symbolStrokeWidth": 2.5, "labelFontSize": 30, "labelColor": "#222", "labelOffset": 16, "rowPadding": 2, "padding": 0}},
      "strokeDash": {"field": "g", "type": "nominal", "scale": {"domain": ["Observed (MSU)", "Observed (no ENSO)", "GCM"], "range": [[1, 0], [4, 3], [3, 2]]},
       "legend": {"orient": "none", "legendX": 819, "legendY": 179, "title": null, "symbolType": "stroke", "symbolSize": 1369, "symbolStrokeWidth": 2.5, "labelFontSize": 30, "labelColor": "#222", "labelOffset": 16, "rowPadding": 2, "padding": 0}}
     }
    },
    {
     "transform": [{"filter": "datum.g == 'Observed (MSU)'"}],
     "mark": {"type": "line", "strokeWidth": 2},
     "encoding": {
      "x": {"field": "t", "type": "quantitative", "axis": null},
      "y": {"field": "v", "type": "quantitative", "axis": null},
      "color": {"field": "g", "type": "nominal", "scale": {"domain": ["Observed (MSU)", "Observed (no ENSO)", "GCM"], "range": ["#333333", "#444444", "#ee2b2b"]},
       "legend": {"orient": "none", "legendX": 819, "legendY": 179, "title": null, "symbolType": "stroke", "symbolSize": 1369, "symbolStrokeWidth": 2.5, "labelFontSize": 30, "labelColor": "#222", "labelOffset": 16, "rowPadding": 2, "padding": 0}},
      "strokeDash": {"field": "g", "type": "nominal", "scale": {"domain": ["Observed (MSU)", "Observed (no ENSO)", "GCM"], "range": [[1, 0], [4, 3], [3, 2]]},
       "legend": {"orient": "none", "legendX": 819, "legendY": 179, "title": null, "symbolType": "stroke", "symbolSize": 1369, "symbolStrokeWidth": 2.5, "labelFontSize": 30, "labelColor": "#222", "labelOffset": 16, "rowPadding": 2, "padding": 0}}
     }
    },
    {
     "mark": {"type": "rule", "strokeWidth": 2.5, "color": "#1a1a1a"},
     "encoding": {
      "x": {"datum": 1991, "type": "quantitative",
       "axis": {"orient": "top", "values": [1991,1991.25,1991.5,1991.75,1992,1992.25,1992.5,1992.75,1993,1993.25,1993.5,1993.75,1994,1994.25,1994.5,1994.75,1995,1995.25,1995.5,1995.75,1996], "labels": false, "tickSize": {"condition": {"test": "datum.value % 1 == 0", "value": -14}, "value": -7}, "tickWidth": 2.5, "tickColor": "#1a1a1a", "domainWidth": 2.5, "domainColor": "#1a1a1a", "domainCap": "square", "title": null}},
      "x2": {"datum": 1996},
      "y": {"datum": 0, "type": "quantitative",
       "axis": {"orient": "right", "values": [0.2, 0, -0.2, -0.4, -0.6, -0.8], "labels": false, "tickSize": -12, "tickWidth": 3, "tickColor": "#1a1a1a", "domainWidth": 3, "domainColor": "#1a1a1a", "domainCap": "square", "title": null}}
     }
    },
    {
     "mark": {"type": "rule", "strokeWidth": 1.3, "color": "#000"},
     "encoding": {
      "x": {"datum": 1991, "type": "quantitative", "axis": null},
      "y": {"datum": 0.2, "type": "quantitative", "axis": null},
      "x2": {"datum": 1992.883},
      "y2": {"datum": 0.9645}
     }
    },
    {
     "mark": {"type": "rule", "strokeWidth": 1.3, "color": "#000"},
     "encoding": {
      "x": {"datum": 1996, "type": "quantitative", "axis": null},
      "y": {"datum": 0.2, "type": "quantitative", "axis": null},
      "x2": {"datum": 1994.334},
      "y2": {"datum": 0.9645}
     }
    }
   ]
  }
 ]
}
